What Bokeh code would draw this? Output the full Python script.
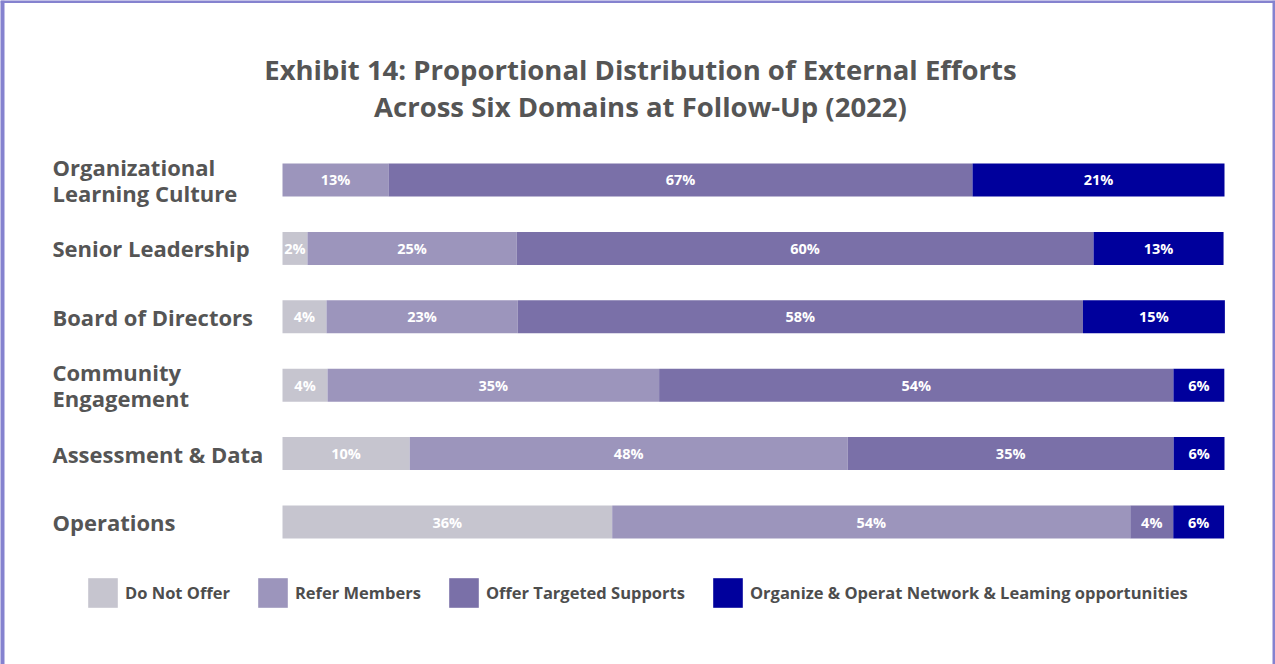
from bokeh.plotting import figure
from bokeh.models import ColumnDataSource, Range1d, Span, Legend, LegendItem
from bokeh.core.properties import value
from bokeh.embed import file_html
from bokeh.resources import INLINE

# ---- data (segment lengths as drawn, in % of bar; printed labels) ----
domains = ["Organizational\nLearning Culture", "Senior Leadership", "Board of Directors",
           "Community\nEngagement", "Assessment & Data", "Operations"]
series = ["Do Not Offer", "Refer Members", "Offer Targeted Supports",
          "Organize & Operat Network & Leaming opportunities"]
do_not_offer = [0.0, 2.65, 4.67, 4.78, 13.5, 35.0]
refer_members = [11.25, 22.2, 20.3, 35.2, 46.5, 55.0]
offer_targeted = [62.0, 61.25, 60.0, 54.6, 34.6, 4.56]
organize_network = [26.75, 13.8, 15.07, 5.4, 5.4, 5.4]
label_do_not_offer = ["", "2%", "4%", "4%", "10%", "36%"]
label_refer = ["13%", "25%", "23%", "35%", "48%", "54%"]
label_offer = ["67%", "60%", "58%", "54%", "35%", "4%"]
label_organize = ["21%", "13%", "15%", "6%", "6%", "6%"]
title_lines = ["Exhibit 14: Proportional Distribution of External Efforts",
               "Across Six Domains at Follow-Up (2022)"]

colors = ["#c6c5cf", "#9c95bc", "#7a70a8", "#00009c"]
FONT = "Open Sans"
GRAY = "#555555"

rows = list(range(len(domains)))
keys = ["s0", "s1", "s2", "s3"]
src = ColumnDataSource(dict(row=rows, s0=do_not_offer, s1=refer_members,
                            s2=offer_targeted, s3=organize_network))

W, H = 1275, 664
X0, X1 = -29.936, 105.414
Y_BOTTOM, Y_TOP = 7.083, -2.624
p = figure(width=W, height=H, output_backend="svg", toolbar_location=None,
           x_range=Range1d(X0, X1), y_range=Range1d(Y_BOTTOM, Y_TOP),
           min_border=0, min_border_left=0, min_border_right=0,
           min_border_top=0, min_border_bottom=0)
p.axis.visible = False
p.grid.visible = False
p.outline_line_color = None
p.background_fill_color = "white"
p.border_fill_color = "white"

renderers = p.hbar_stack(keys, y="row", height=0.4825, color=colors, source=src,
                         line_color=None)

# segment labels
vals = [do_not_offer, refer_members, offer_targeted, organize_network]
labs = [label_do_not_offer, label_refer, label_offer, label_organize]
lx, ly, lt = [], [], []
for i in rows:
    left = 0.0
    for s in range(4):
        w = vals[s][i]
        if labs[s][i]:
            lx.append(left + w / 2.0)
            ly.append(i)
            lt.append(labs[s][i])
        left += w
p.text(x=lx, y=ly, text=lt, text_align="center", text_baseline="middle",
       text_color="white", text_font=value(FONT), text_font_style="bold",
       text_font_size="14.5px")

# category labels
p.text(x=[-24.42] * len(rows), y=rows, text=domains, text_align="left",
       text_baseline="middle", text_color=GRAY, text_font=value(FONT),
       text_font_style="bold", text_font_size="22px", text_line_height=0.852)

# title
p.text(x=[38.0, 38.0], y=[-1.615, -1.075], text=title_lines, text_align="center",
       text_baseline="middle", text_color=GRAY, text_font=value(FONT),
       text_font_style="bold", text_font_size="27.5px")

# legend
items = [LegendItem(label=series[k], renderers=[renderers[k]]) for k in range(4)]
legend = Legend(items=items, orientation="horizontal", location=(84, 53),
                glyph_width=37, glyph_height=37, label_standoff=4, spacing=24,
                padding=0, margin=0, border_line_color=None,
                background_fill_alpha=0, label_text_font=FONT,
                label_text_font_style="bold", label_text_font_size="16.5px",
                label_text_color="#4d4d4d", label_height=37)
p.add_layout(legend, "center")

# frame border (top, left, right)
bc = "#8582cf"
p.add_layout(Span(location=X0, dimension="height", line_color=bc, line_width=8))
p.add_layout(Span(location=X1, dimension="height", line_color=bc, line_width=6))
p.add_layout(Span(location=Y_TOP, dimension="width", line_color=bc, line_width=5))

open("out.html", "w").write(file_html(p, INLINE))
